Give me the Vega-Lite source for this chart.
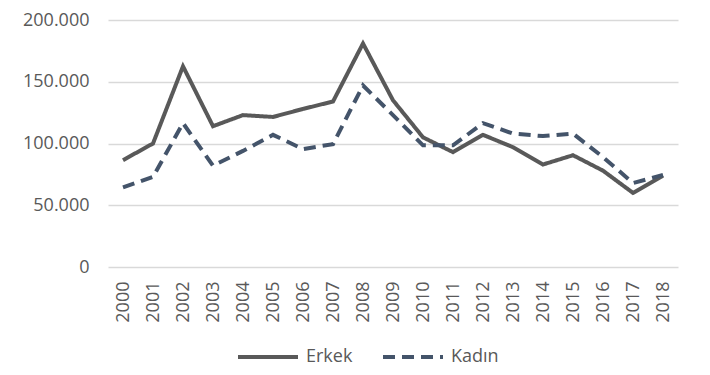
{
  "$schema": "https://vega.github.io/schema/vega-lite/v6.json",
  "autosize": {"type": "none"},
  "width": 570,
  "height": 247,
  "padding": {"left": 108, "top": 20, "right": 32, "bottom": 108},
  "background": "white",
  "config": {
    "view": {"stroke": null},
    "font": "Open Sans",
    "axis": {"labelFont": "Open Sans", "labelColor": "#595959", "labelFontSize": 18},
    "legend": {"labelFont": "Open Sans", "labelColor": "#595959", "labelFontSize": 18}
  },
  "data": {
    "values": [
      {"year": "2000", "series": "Erkek", "value": 86500},
      {"year": "2001", "series": "Erkek", "value": 100000},
      {"year": "2002", "series": "Erkek", "value": 162500},
      {"year": "2003", "series": "Erkek", "value": 114000},
      {"year": "2004", "series": "Erkek", "value": 123000},
      {"year": "2005", "series": "Erkek", "value": 121500},
      {"year": "2006", "series": "Erkek", "value": 128000},
      {"year": "2007", "series": "Erkek", "value": 134000},
      {"year": "2008", "series": "Erkek", "value": 181000},
      {"year": "2009", "series": "Erkek", "value": 135000},
      {"year": "2010", "series": "Erkek", "value": 105000},
      {"year": "2011", "series": "Erkek", "value": 93000},
      {"year": "2012", "series": "Erkek", "value": 107000},
      {"year": "2013", "series": "Erkek", "value": 97000},
      {"year": "2014", "series": "Erkek", "value": 83000},
      {"year": "2015", "series": "Erkek", "value": 90500},
      {"year": "2016", "series": "Erkek", "value": 78000},
      {"year": "2017", "series": "Erkek", "value": 60000},
      {"year": "2018", "series": "Erkek", "value": 74000},
      {"year": "2000", "series": "Kadın", "value": 64500},
      {"year": "2001", "series": "Kadın", "value": 73000},
      {"year": "2002", "series": "Kadın", "value": 116500},
      {"year": "2003", "series": "Kadın", "value": 82000},
      {"year": "2004", "series": "Kadın", "value": 94000},
      {"year": "2005", "series": "Kadın", "value": 107000},
      {"year": "2006", "series": "Kadın", "value": 95500},
      {"year": "2007", "series": "Kadın", "value": 99500},
      {"year": "2008", "series": "Kadın", "value": 147000},
      {"year": "2009", "series": "Kadın", "value": 123000},
      {"year": "2010", "series": "Kadın", "value": 98500},
      {"year": "2011", "series": "Kadın", "value": 98500},
      {"year": "2012", "series": "Kadın", "value": 116500},
      {"year": "2013", "series": "Kadın", "value": 108000},
      {"year": "2014", "series": "Kadın", "value": 106000},
      {"year": "2015", "series": "Kadın", "value": 108000},
      {"year": "2016", "series": "Kadın", "value": 89000},
      {"year": "2017", "series": "Kadın", "value": 68000},
      {"year": "2018", "series": "Kadın", "value": 74500}
    ]
  },
  "mark": {"type": "line", "strokeWidth": 4},
  "encoding": {
    "x": {
      "field": "year",
      "type": "ordinal",
      "scale": {"type": "point", "padding": 0.5},
      "axis": {
        "title": null,
        "labelAngle": -90,
        "labelPadding": 14,
        "ticks": false,
        "domain": false,
        "grid": false
      }
    },
    "y": {
      "field": "value",
      "type": "quantitative",
      "scale": {"domain": [0, 200000], "nice": false},
      "axis": {
        "title": null,
        "values": [0, 50000, 100000, 150000, 200000],
        "labelExpr": "replace(format(datum.value, ','), ',', '.')",
        "labelPadding": 19,
        "ticks": false,
        "domain": false,
        "grid": true,
        "gridColor": "#d9d9d9",
        "gridWidth": 1.5
      }
    },
    "color": {
      "field": "series",
      "type": "nominal",
      "scale": {"domain": ["Erkek", "Kadın"], "range": ["#595959", "#44546A"]},
      "legend": {
        "title": null,
        "orient": "none",
        "direction": "horizontal",
        "legendX": 128,
        "legendY": 305,
        "symbolType": "stroke",
        "symbolSize": 3600,
        "symbolStrokeWidth": 4,
        "labelOffset": 6,
        "columnPadding": 22
      }
    },
    "strokeDash": {
      "field": "series",
      "type": "nominal",
      "scale": {"domain": ["Erkek", "Kadın"], "range": [[1, 0], [12, 7]]},
      "legend": null
    }
  }
}
